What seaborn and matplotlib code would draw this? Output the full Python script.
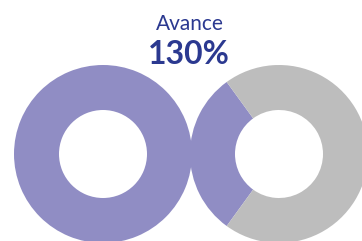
import matplotlib
matplotlib.use("Agg")
import matplotlib.pyplot as plt
import seaborn as sns

# --- Data ---
title = "Avance"
value_label = "130%"
first_ring = [100]        # first 100 %
second_ring = [30, 70]    # extra 30 %, rest
ring_colors = ["#908dc4", "#bdbdbd"]
text_color = "#2b3990"

sns.set_theme(style="white")
plt.rcParams['font.family'] = ['Lato', 'DejaVu Sans']

fig = plt.figure(figsize=(3.62, 2.41), dpi=100)
ax = fig.add_axes([0, 0, 1, 1])

outer_r = 89
ring_w = 45

# --- Left donut: full ---
ax.pie(first_ring, colors=[ring_colors[0]], center=(103, 87), radius=outer_r,
       startangle=90, wedgeprops=dict(width=ring_w, linewidth=0), frame=True)

# --- Right donut: overshoot part ---
ax.pie(second_ring, colors=ring_colors, center=(279, 87), radius=outer_r,
       startangle=126, counterclock=True,
       wedgeprops=dict(width=ring_w, linewidth=0), frame=True)

ax.set_xlim(0, 362)
ax.set_ylim(0, 241)
ax.set_aspect("equal")
ax.axis("off")

ax.text(190, 241 - 24, title, ha="center", va="center", fontsize=15, color=text_color)
ax.text(189, 241 - 55, value_label, ha="center", va="center", fontsize=23,
        fontweight="bold", color=text_color)

plt.savefig("out.png", dpi=100)
plt.close()
